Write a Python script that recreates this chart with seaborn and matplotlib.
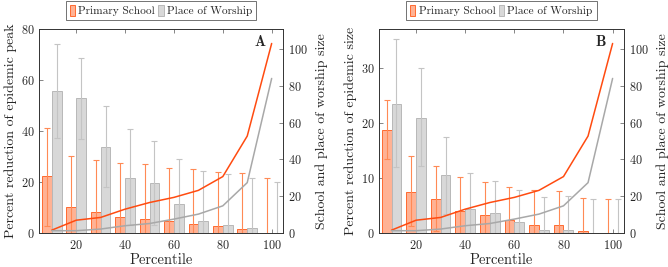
import seaborn as sns
import matplotlib.pyplot as plt
from matplotlib.patches import Patch
import pandas as pd
import numpy as np

# percentile groups
pct = [10, 20, 30, 40, 50, 60, 70, 80, 90, 100]

# school / place of worship size (right axis, same in both panels)
school_size = [1.6, 7.0, 8.5, 13.0, 16.6, 19.4, 23.2, 30.7, 52.7, 103.0]
worship_size = [1.3, 1.3, 2.2, 4.0, 5.2, 7.6, 10.3, 14.8, 27.4, 84.0]

# panel A - reduction of epidemic peak
a_school = [22.2, 10.2, 8.4, 6.4, 5.7, 4.9, 3.6, 2.8, 1.6, 0.0]
a_school_hi = [41.2, 30.4, 28.6, 27.5, 27.2, 25.7, 25.0, 23.9, 23.6, 21.6]
a_school_lo = [2.6, -10.0, -12.0, -14.0, -15.0, -16.0, -17.0, -18.0, -20.0, -21.0]
a_worship = [55.7, 52.9, 33.8, 21.7, 19.7, 11.4, 4.6, 3.3, 2.0, 0.0]
a_worship_hi = [74.2, 68.8, 50.0, 40.8, 36.3, 29.2, 24.4, 23.0, 21.8, 20.0]
a_worship_lo = [37.2, 36.8, 18.2, 3.0, 3.0, -6.0, -15.0, -16.0, -18.0, -20.0]

# panel B - reduction of epidemic size
b_school = [18.7, 7.5, 6.2, 4.1, 3.2, 2.3, 1.5, 1.5, 0.4, 0.0]
b_school_hi = [24.2, 14.0, 12.2, 10.2, 9.3, 8.4, 7.8, 7.6, 6.4, 6.2]
b_school_lo = [13.5, 1.3, 0.3, -2.0, -3.0, -4.0, -5.0, -5.0, -6.0, -6.0]
b_worship = [23.5, 21.0, 10.5, 4.4, 3.6, 2.0, 0.5, 0.5, 0.0, 0.0]
b_worship_hi = [35.3, 30.0, 17.5, 10.9, 9.5, 7.9, 6.6, 6.8, 6.2, 6.2]
b_worship_lo = [12.0, 12.2, 3.4, -2.0, -2.5, -4.0, -6.0, -6.0, -6.0, -6.0]

sns.set_theme(style='ticks')
plt.rcParams['font.family'] = ['cmr10', 'DejaVu Serif']
plt.rcParams['axes.formatter.use_mathtext'] = True
plt.rcParams['mathtext.fontset'] = 'cm'

ORANGE_FACE = '#ffb294'
ORANGE_EDGE = '#ff6a30'
ORANGE_LINE = '#ff4b10'
ORANGE_ERR = '#ff8a55'
GRAY_FACE = '#d8d8d8'
GRAY_EDGE = '#b8b8b8'
GRAY_LINE = '#a8a8a8'
GRAY_ERR = '#c4c4c4'
CAP = '#3a3a3a'

fig = plt.figure(figsize=(6.68, 2.67), dpi=100)


def panel(ax, school, s_lo, s_hi, worship, w_lo, w_hi, ylim, yticks, ylabel, tag):
    df = pd.DataFrame({
        'pct': pct * 2,
        'val': school + worship,
        'kind': ['Primary School'] * len(pct) + ['Place of Worship'] * len(pct),
    })
    sns.barplot(data=df, x='pct', y='val', hue='kind', native_scale=True,
                width=0.8, palette=[ORANGE_FACE, GRAY_FACE], saturation=1,
                errorbar=None, legend=False, ax=ax, linewidth=0.7)
    for p in ax.patches:
        fc = p.get_facecolor()
        p.set_edgecolor(ORANGE_EDGE if fc[1] < 0.8 else GRAY_EDGE)

    x = np.array(pct, dtype=float)
    for xs, v, lo, hi, col in [(x - 2, school, s_lo, s_hi, ORANGE_ERR),
                               (x + 2, worship, w_lo, w_hi, GRAY_ERR)]:
        v = np.array(v)
        err = [v - np.array(lo), np.array(hi) - v]
        _, caps, _ = ax.errorbar(xs, v, yerr=err, fmt='none', ecolor=col,
                                 elinewidth=0.8, capsize=2.2, capthick=0.8, zorder=4)
        for c in caps:
            c.set_color(CAP)

    ax.set_xlim(4.8, 104.6)
    ax.set_ylim(*ylim)
    ax.set_yticks(yticks)
    ax.set_xticks([20, 40, 60, 80, 100])
    ax.set_xlabel('Percentile', fontsize=10.5, labelpad=1)
    ax.set_ylabel(ylabel, fontsize=10, labelpad=3)
    ax.tick_params(axis='x', direction='in', top=True, length=3, width=0.5,
                   labelsize=8.8, pad=4, color='#555555')
    ax.tick_params(axis='y', direction='in', length=3, width=0.5,
                   labelsize=8.8, pad=3, color='#555555')
    for s in ax.spines.values():
        s.set_linewidth(0.6)
        s.set_color('#333333')
    ax.text(0.905, 0.935, tag, transform=ax.transAxes, ha='center', va='center',
            fontsize=10.5, fontfamily='cmb10')

    ax2 = ax.twinx()
    sns.lineplot(x=pct, y=school_size, ax=ax2, color=ORANGE_LINE, linewidth=1.1)
    sns.lineplot(x=pct, y=worship_size, ax=ax2, color=GRAY_LINE, linewidth=1.1)
    ax2.set_ylim(0, 110.8)
    ax2.set_yticks([0, 20, 40, 60, 80, 100])
    ax2.set_ylabel('School and place of worship size', fontsize=10, labelpad=5)
    ax2.tick_params(axis='y', direction='in', length=3, width=0.5,
                    labelsize=8.8, pad=4, color='#555555')
    for s in ax2.spines.values():
        s.set_linewidth(0.6)
        s.set_color('#333333')

    handles = [Patch(facecolor=ORANGE_FACE, edgecolor=ORANGE_EDGE, linewidth=0.7),
               Patch(facecolor=GRAY_FACE, edgecolor=GRAY_EDGE, linewidth=0.7)]
    leg = ax.legend(handles, ['Primary School', 'Place of Worship'], ncol=2,
                    loc='lower center', bbox_to_anchor=(0.5, 1.045),
                    fontsize=8.2, frameon=True, fancybox=False,
                    handlelength=0.45, handleheight=1.1, handletextpad=0.3,
                    columnspacing=0.3, borderpad=0.35, borderaxespad=0)
    leg.get_frame().set_edgecolor('#333333')
    leg.get_frame().set_linewidth(0.6)
    return ax2


axA = fig.add_axes([0.0585, 0.127, 0.365, 0.764])
panel(axA, a_school, a_school_lo, a_school_hi, a_worship, a_worship_lo, a_worship_hi,
      (0, 80), [0, 20, 40, 60, 80], 'Percent reduction of epidemic peak', 'A')

axB = fig.add_axes([0.567, 0.127, 0.367, 0.764])
panel(axB, b_school, b_school_lo, b_school_hi, b_worship, b_worship_lo, b_worship_hi,
      (0, 37.1), [0, 10, 20, 30], 'Percent reduction of epidemic size', 'B')

fig.savefig('out.png', dpi=100)
